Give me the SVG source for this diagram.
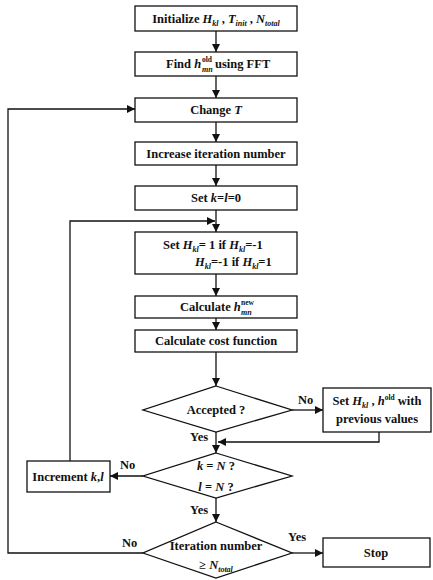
<svg xmlns="http://www.w3.org/2000/svg" width="433" height="580" viewBox="0 0 433 580">
<defs>
<marker id="ah" viewBox="0 0 10 10" refX="10" refY="5" markerWidth="8" markerHeight="8" markerUnits="userSpaceOnUse" orient="auto">
<path d="M0,0 L10,5 L0,10 z" fill="#111"/>
</marker>
<style>
.b{fill:#fff;stroke:#111;stroke-width:1.3}
text{font-family:"Liberation Serif","Times New Roman",serif;font-size:12.5px;font-weight:bold;fill:#111}
.t{text-anchor:middle}
.i{font-style:italic}
.s{font-size:8px;font-style:italic}
.p{font-size:7.5px}
.c{fill:none;stroke:#111;stroke-width:1.3}
</style>
</defs>
<g id="connectors">
<line class="c" x1="216" y1="31" x2="216" y2="52" marker-end="url(#ah)"/>
<line class="c" x1="216" y1="76" x2="216" y2="98" marker-end="url(#ah)"/>
<line class="c" x1="216" y1="122" x2="216" y2="142" marker-end="url(#ah)"/>
<line class="c" x1="216" y1="165" x2="216" y2="186" marker-end="url(#ah)"/>
<line class="c" x1="216" y1="210" x2="216" y2="232" marker-end="url(#ah)"/>
<line class="c" x1="216" y1="274" x2="216" y2="296" marker-end="url(#ah)"/>
<line class="c" x1="216" y1="318" x2="216" y2="330" marker-end="url(#ah)"/>
<line class="c" x1="216" y1="352" x2="216" y2="386" marker-end="url(#ah)"/>
<line class="c" x1="216" y1="432" x2="216" y2="453" marker-end="url(#ah)"/>
<line class="c" x1="292" y1="410" x2="323" y2="410" marker-end="url(#ah)"/>
<polyline class="c" points="379,432 379,442 218,442" marker-end="url(#ah)"/>
<line class="c" x1="143" y1="476" x2="110" y2="476" marker-end="url(#ah)"/>
<polyline class="c" points="70,461 70,221 215,221" marker-end="url(#ah)"/>
<line class="c" x1="216" y1="498" x2="216" y2="522" marker-end="url(#ah)"/>
<line class="c" x1="292" y1="553" x2="323" y2="553" marker-end="url(#ah)"/>
<polyline class="c" points="143,553 8,553 8,109 135,109" marker-end="url(#ah)"/>
</g>
<g id="init">
<rect class="b" x="135" y="6" width="162" height="25"/>
<text class="t" x="216" y="23">Initialize <tspan class="i">H</tspan><tspan class="s" dy="3">kl</tspan><tspan dy="-3"> , </tspan><tspan class="i">T</tspan><tspan class="s" dy="3">init</tspan><tspan dy="-3"> , </tspan><tspan class="i">N</tspan><tspan class="s" dy="3">total</tspan></text>
</g>
<g id="find">
<rect class="b" x="135" y="52" width="162" height="24"/>
<text x="166" y="68">Find <tspan class="i">h</tspan></text>
<text class="p" x="202" y="62">old</text>
<text class="s" x="202" y="72">mn</text>
<text x="215" y="68">using FFT</text>
</g>
<g id="changeT">
<rect class="b" x="135" y="98" width="162" height="24"/>
<text class="t" x="216" y="114">Change <tspan class="i">T</tspan></text>
</g>
<g id="incIter">
<rect class="b" x="135" y="142" width="162" height="23"/>
<text class="t" x="216" y="158">Increase iteration number</text>
</g>
<g id="setKL">
<rect class="b" x="135" y="186" width="162" height="24"/>
<text class="t" x="216" y="202">Set <tspan class="i">k</tspan>=<tspan class="i">l</tspan>=0</text>
</g>
<g id="setH">
<rect class="b" x="135" y="232" width="162" height="42"/>
<text x="163" y="249">Set <tspan class="i">H</tspan><tspan class="s" dy="3">kl</tspan><tspan dy="-3">= 1  if </tspan><tspan class="i">H</tspan><tspan class="s" dy="3">kl</tspan><tspan dy="-3">=-1</tspan></text>
<text x="195" y="266"><tspan class="i">H</tspan><tspan class="s" dy="3">kl</tspan><tspan dy="-3">=-1 if </tspan><tspan class="i">H</tspan><tspan class="s" dy="3">kl</tspan><tspan dy="-3">=1</tspan></text>
</g>
<g id="calcH">
<rect class="b" x="135" y="296" width="162" height="22"/>
<text x="180" y="311">Calculate <tspan class="i">h</tspan></text>
<text class="p" x="241" y="305">new</text>
<text class="s" x="241" y="315">mn</text>
</g>
<g id="cost">
<rect class="b" x="135" y="330" width="162" height="22"/>
<text class="t" x="216" y="345">Calculate cost function</text>
</g>
<g id="accepted">
<polygon class="b" points="216,386 292,410 216,432 143,410"/>
<text class="t" x="216" y="414">Accepted ?</text>
</g>
<g id="restore">
<rect class="b" x="323" y="388" width="108" height="44"/>
<text class="t" x="377" y="405">Set <tspan class="i">H</tspan><tspan class="s" dy="3">kl</tspan><tspan dy="-3"> , </tspan><tspan class="i">h</tspan><tspan class="p" dy="-5">old</tspan><tspan dy="5"> with</tspan></text>
<text class="t" x="377" y="423">previous values</text>
</g>
<g id="kN">
<polygon class="b" points="216,453 292,476 216,498 143,476"/>
<text class="t" x="216" y="470"><tspan class="i">k</tspan> = <tspan class="i">N</tspan> ?</text>
<text class="t" x="216" y="491"><tspan class="i">l</tspan> = <tspan class="i">N</tspan> ?</text>
</g>
<g id="increment">
<rect class="b" x="27" y="461" width="83" height="31"/>
<text class="t" x="68" y="481">Increment <tspan class="i">k</tspan>,<tspan class="i">l</tspan></text>
</g>
<g id="iterCheck">
<polygon class="b" points="216,522 292,553 216,578 143,553"/>
<text class="t" x="216" y="550">Iteration number</text>
<text class="t" x="216" y="569">≥ <tspan class="i">N</tspan><tspan class="s" dy="3">total</tspan></text>
</g>
<g id="stop">
<rect class="b" x="323" y="538" width="107" height="29"/>
<text class="t" x="376" y="557">Stop</text>
</g>
<g id="labels">
<text x="298" y="404">No</text>
<text x="190" y="441">Yes</text>
<text x="120" y="469">No</text>
<text x="190" y="514">Yes</text>
<text x="122" y="547">No</text>
<text x="288" y="541">Yes</text>
</g>
</svg>
